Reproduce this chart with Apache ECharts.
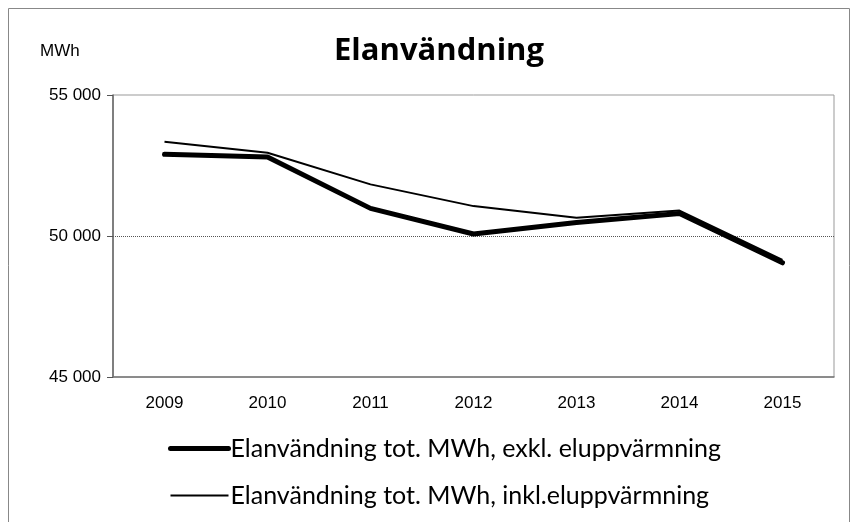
<!DOCTYPE html>
<html>
<head>
<meta charset="utf-8">
<script src="https://cdn.jsdelivr.net/npm/echarts@6/dist/echarts.min.js"></script>
<style>
html, body { margin: 0; padding: 0; background: #fff; }
#main { width: 855px; height: 522px; }
</style>
</head>
<body>
<div id="main"></div>
<script>
// år på x-axeln
var years = ['2009', '2010', '2011', '2012', '2013', '2014', '2015'];
// MWh, exkl. eluppvärmning (tjock linje)
var exklData = [52900, 52800, 50980, 50070, 50480, 50800, 49050];
// MWh, inkl. eluppvärmning (tunn linje)
var inklData = [53340, 52950, 51830, 51060, 50650, 50900, 49150];
var yTicks = [45000, 50000, 55000];

var exklName = 'Elanvändning tot. MWh, exkl. eluppvärmning';
var inklName = 'Elanvändning tot. MWh, inkl.eluppvärmning';

var myChart = echarts.init(document.getElementById('main'));

// tusental med mellanslag: 55000 -> "55 000"
function fmt(v) {
    return String(v).replace(/\B(?=(\d{3})+(?!\d))/g, ' ');
}

var option = {
    animation: false,
    title: {
        text: 'Elanvändning',
        left: 329,
        top: 31,
        textStyle: {
            fontFamily: 'Open Sans',
            fontWeight: 'bold',
            fontSize: 31,
            color: '#000'
        }
    },
    graphic: [{
        type: 'rect',
        shape: { x: 8.5, y: 8.5, width: 841, height: 530 },
        style: { fill: 'none', stroke: '#888', lineWidth: 1 },
        silent: true
    }, {
        type: 'text',
        left: 40,
        top: 43,
        style: { text: 'MWh', font: '17px "Liberation Sans"', fill: '#000' }
    }],
    legend: {
        orient: 'vertical',
        left: 168,
        top: 436,
        padding: 0,
        itemWidth: 58,
        itemHeight: 14,
        itemGap: 22,
        itemStyle: { opacity: 0 },
        textStyle: { fontFamily: 'Lato', fontSize: 25, color: '#000', padding: [0, 0, 0, -3] },
        data: [
            { name: exklName, lineStyle: { width: 5, color: '#000' } },
            { name: inklName, lineStyle: { width: 2, color: '#000' } }
        ]
    },
    grid: {
        left: 113,
        right: 21,
        top: 95,
        bottom: 145,
        show: true,
        borderColor: '#999',
        borderWidth: 1
    },
    xAxis: {
        type: 'category',
        data: years,
        axisLine: { lineStyle: { color: '#777', width: 1.5 } },
        axisTick: { length: 6, lineStyle: { color: '#555' } },
        axisLabel: { margin: 18, fontFamily: 'Liberation Sans', fontSize: 17, color: '#000' },
        splitLine: { show: false }
    },
    yAxis: {
        type: 'value',
        min: yTicks[0],
        max: yTicks[yTicks.length - 1],
        interval: 5000,
        axisLine: { show: true, lineStyle: { color: '#666', width: 1.5 } },
        axisTick: { show: true, length: 6, lineStyle: { color: '#555' } },
        axisLabel: {
            margin: 12,
            fontFamily: 'Liberation Sans',
            fontSize: 17,
            color: '#000',
            formatter: fmt
        },
        splitLine: {
            show: true,
            lineStyle: { color: ['transparent', '#555', 'transparent'], type: [1, 1], width: 1 }
        }
    },
    series: [{
        name: exklName,
        type: 'line',
        data: exklData,
        symbol: 'none',
        lineStyle: { color: '#000', width: 5, cap: 'round' },
        itemStyle: { color: '#000' },
        z: 3
    }, {
        name: inklName,
        type: 'line',
        data: inklData,
        symbol: 'none',
        lineStyle: { color: '#000', width: 2 },
        itemStyle: { color: '#000' },
        z: 2
    }]
};

myChart.setOption(option);
window.onresize = myChart.resize;
</script>
</body>
</html>
